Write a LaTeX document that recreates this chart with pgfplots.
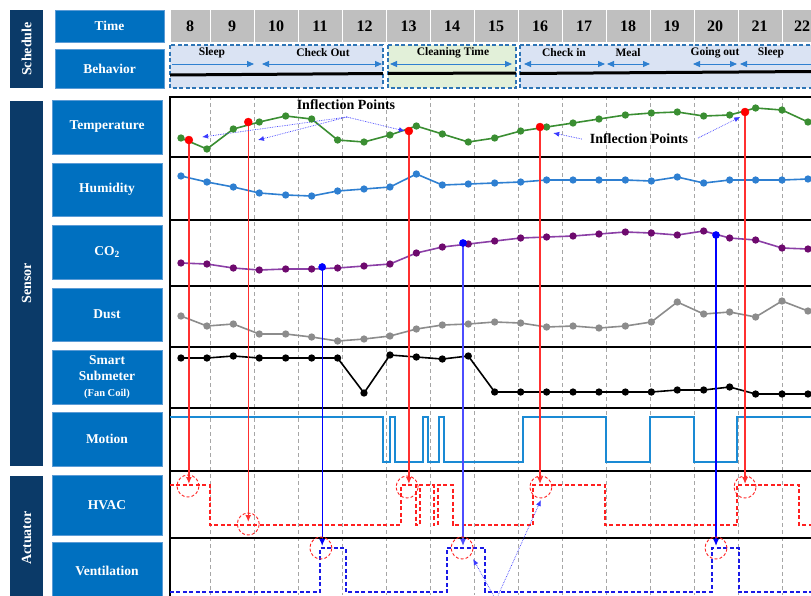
\documentclass[border=0pt]{standalone}
\usepackage{fontspec}
\setmainfont{Liberation Serif}
\usepackage{pgfplots}
\pgfplotsset{compat=1.18}
\usepackage{pgfplotstable}
\usetikzlibrary{arrows.meta}

\definecolor{boxblue}{HTML}{0070C0}
\definecolor{navy}{HTML}{0B3A68}
\definecolor{boxedge}{HTML}{5B9BD5}
\definecolor{lightblue}{HTML}{DAE3F3}
\definecolor{lightgreen}{HTML}{E2F0D9}
\definecolor{dashblue}{HTML}{2E75B6}
\definecolor{arrowblue}{HTML}{2F80D0}
\definecolor{headgray}{HTML}{BFBFBF}
\definecolor{tempgreen}{HTML}{3A8E32}
\definecolor{humblue}{HTML}{2E7FD1}
\definecolor{co2line}{HTML}{8B3FA6}
\definecolor{co2mark}{HTML}{6E0A6E}
\definecolor{dustgray}{HTML}{8C8C8C}
\definecolor{motionblue}{HTML}{1A8AD4}
\definecolor{hvacred}{HTML}{FF2020}
\definecolor{ventblue}{HTML}{1A1AE6}
\definecolor{linkred}{HTML}{FF3030}
\definecolor{linkblue}{HTML}{4D4DFF}
\definecolor{notes}{HTML}{3A3AFF}

\newcommand{\lblfont}{\fontsize{13.5}{16}\selectfont\bfseries}
% label box: x1 y1 x2 y2 text
\newcommand{\lbox}[5]{%
  \filldraw[fill=boxblue, draw=boxedge, line width=0.6pt] (#1,#2) rectangle (#3,#4);
  \node[text=white, align=center, font=\lblfont] at ({(#1+#3)/2},{(#2+#4)/2}) {#5};}
\newcommand{\navybar}[5]{%
  \fill[navy] (#1,#2) rectangle (#3,#4);
  \node[rotate=90, text=white, font=\fontsize{14}{16}\selectfont\bfseries] at ({(#1+#3)/2},{(#2+#4)/2}) {#5};}

% time in hours, sensor readings as drawn (row position, px)
\pgfplotstableread{
h     T   H   C   D   M
7.84  138 176 263 316 358
8.43  149 182 264 326 358
9.03  129 187 268 324 356
9.62  122 193 270 334 358
10.22 116 195 269 334 358
10.81 119 196 269 337 358
11.40 140 191 268 341 358
12.00 142 189 266 339 393
12.59 135 187 264 336 355
13.19 126 174 253 329 357
13.78 134 185 247 325 359
14.37 142 184 244 324 356
14.97 138 183 241 322 392
15.56 131 182 238 323 392
16.15 127 180 237 327 392
16.75 123 180 236 326 392
17.34 119 180 234 328 392
17.94 115 180 232 326 392
18.53 113 181 233 322 392
19.12 112 177 235 302 390
19.72 116 183 231 314 390
20.31 115 180 238 312 387
20.90 108 180 240 317 394
21.50 110 180 248 301 394
22.09 122 179 249 311 394
}\sensors

\begin{document}
\begin{tikzpicture}
\path[use as bounding box] (0pt,0pt) rectangle (811pt,-595pt);
\clip (0pt,0pt) rectangle (811pt,-595pt);
\begin{scope}[x=1pt,y=-1pt]
  % left column
  \navybar{10}{10}{43}{88}{Schedule}
  \navybar{10}{101}{43}{466}{Sensor}
  \navybar{10}{476}{43}{600}{Actuator}
  \lbox{55}{10}{164}{42}{Time}
  \lbox{55}{49}{164}{88}{Behavior}
  \lbox{52}{100}{162}{154}{Temperature}
  \lbox{52}{163}{162}{216}{Humidity}
  \lbox{52}{225}{162}{279}{CO\textsubscript{2}}
  \lbox{52}{288}{162}{341}{Dust}
  \lbox{52}{350}{162}{404}{Smart\\Submeter\\{\fontsize{10.5}{12}\selectfont(Fan Coil)}}
  \lbox{52}{412}{162}{466}{Motion}
  \lbox{52}{475}{162}{535}{HVAC}
  \lbox{52}{542}{162}{600}{Ventilation}

  % time header
  \fill[headgray] (171,10) rectangle (811,42);
  \foreach \x in {210,254,...,782} \draw[white, line width=1pt] (\x,10) -- (\x,42);
  \foreach \h/\x in {8/190,9/232,10/276,11/320,12/364.5,13/408.5,14/452,15/496,16/540,17/584,18/628,19/671.5,20/715,21/759.5,22/802}
    \node[font=\fontsize{16}{18}\selectfont\bfseries] at (\x,26) {\h};

  % behaviour row
  \filldraw[fill=lightblue, draw=dashblue, line width=1.2pt, dash pattern=on 4pt off 2.5pt] (170,45) rectangle (383,88);
  \filldraw[fill=lightgreen, draw=dashblue, line width=1.2pt, dash pattern=on 4pt off 2.5pt] (388,45) rectangle (516,88);
  \filldraw[fill=lightblue, draw=dashblue, line width=1.2pt, dash pattern=on 4pt off 2.5pt] (520,45) rectangle (820,88);
  \draw[line width=3pt] (170,75) -- (383,73.5);
  \draw[line width=3pt] (388,73.5) -- (516,73);
  \draw[line width=3pt] (520,73.5) -- (811,71.5);
  \begin{scope}[arrowblue, line width=0.9pt, >={Triangle[length=7pt,width=6pt]}]
    \draw[->] (172,64) -- (254,64);
    \draw[<->] (262,64) -- (382,64);
    \draw[<->] (390,64) -- (512,64);
    \draw[<->] (524,64) -- (605,64);
    \draw[<->] (607,64) -- (650,64);
    \draw[<->] (693,64) -- (737,64);
    \draw[<-] (740,64) -- (815,64);
  \end{scope}
  \begin{scope}[font=\fontsize{11.5}{13}\selectfont\bfseries]
    \node at (212,53) {Sleep};
    \node at (323,53) {Check Out};
    \node at (453,53) {Cleaning Time};
    \node at (564,53) {Check in};
    \node at (628,53) {Meal};
    \node at (715,53) {Going out};
    \node at (771,53) {Sleep};
  \end{scope}
\end{scope}

\begin{axis}[
  at={(170pt,-595pt)}, anchor=south west,
  width=641pt, height=499pt, scale only axis,
  xmin=7.5909, xmax=22.159, ymin=96, ymax=595, y dir=reverse,
  clip=false,
  axis line style={draw=none},
  xtick={8.5,9.5,...,21.5}, xticklabels={}, ytick=\empty,
  major tick length=0pt,
  xmajorgrids,
  major grid style={color=gray!70, line width=0.7pt, dash pattern=on 4pt off 3pt},
]
% panel frame
\draw[line width=2.5pt] (axis cs:7.5909,97) -- (axis cs:22.3,97);
\draw[line width=2pt] (axis cs:7.5909,157) -- (axis cs:22.3,157);
\draw[line width=2pt] (axis cs:7.5909,220) -- (axis cs:22.3,220);
\draw[line width=2pt] (axis cs:7.5909,286) -- (axis cs:22.3,286);
\draw[line width=2pt] (axis cs:7.5909,347) -- (axis cs:22.3,347);
\draw[line width=2pt] (axis cs:7.5909,408) -- (axis cs:22.3,408);
\draw[line width=2pt] (axis cs:7.5909,471) -- (axis cs:22.3,471);
\draw[line width=2pt] (axis cs:7.5909,538) -- (axis cs:22.3,538);
\draw[line width=1.5pt] (axis cs:7.5909,96) -- (axis cs:7.5909,600);

% sensors
\addplot[tempgreen, line width=1.6pt, mark=*, mark size=2.8pt] table[x=h,y=T]{\sensors};
\addplot[humblue, line width=1.6pt, mark=*, mark size=2.8pt] table[x=h,y=H]{\sensors};
\addplot[co2line, line width=1.6pt, mark=*, mark size=2.8pt, mark options={fill=co2mark, draw=co2mark}] table[x=h,y=C]{\sensors};
\addplot[dustgray, line width=1.6pt, mark=*, mark size=2.8pt] table[x=h,y=D]{\sensors};
\addplot[black, line width=1.6pt, mark=*, mark size=2.8pt] table[x=h,y=M]{\sensors};

% motion / actuators (on-off states)
\addplot[motionblue, line width=1.8pt, const plot] coordinates {
  (7.59,417) (12.43,462) (12.59,417) (12.70,462) (13.34,417) (13.45,462)
  (13.70,417) (13.82,462) (15.61,417) (17.50,462) (18.50,417) (19.50,462)
  (20.48,417) (22.16,417)};
\addplot[hvacred, line width=1.6pt, const plot, dash pattern=on 4pt off 2.5pt] coordinates {
  (7.59,485) (8.50,525) (12.84,485) (13.18,525) (13.27,485) (13.59,525)
  (13.68,485) (14.02,525) (15.84,485) (17.48,525) (20.48,485) (21.89,525)
  (22.16,525)};
\addplot[ventblue, line width=1.6pt, const plot, dash pattern=on 4pt off 2.5pt] coordinates {
  (7.59,592) (11.00,548) (11.59,592) (13.89,548) (14.75,592) (19.91,548)
  (20.52,592) (22.16,592)};

% links from inflection points to actuators
\addplot[linkred, line width=1.3pt, -{Latex[length=7pt,width=6pt]}] coordinates {(8.02,140) (8.02,484)};
\addplot[linkred, line width=1.4pt, -{Latex[length=7pt,width=6pt]}] coordinates {(9.37,122) (9.37,522)};
\addplot[linkred, line width=1.3pt, -{Latex[length=7pt,width=6pt]}] coordinates {(13.02,131) (13.02,484)};
\addplot[linkred, line width=1.3pt, -{Latex[length=7pt,width=6pt]}] coordinates {(16.00,127) (16.00,484)};
\addplot[linkred, line width=1.3pt, -{Latex[length=7pt,width=6pt]}] coordinates {(20.66,112) (20.66,484)};
\addplot[blue, line width=1.3pt, -{Latex[length=7pt,width=6pt]}] coordinates {(11.05,267) (11.05,546)};
\addplot[linkblue, line width=1.3pt, -{Latex[length=7pt,width=6pt]}] coordinates {(14.25,243) (14.25,546)};
\addplot[blue, line width=1.3pt, -{Latex[length=7pt,width=6pt]}] coordinates {(20.00,235) (20.00,546)};

\addplot[only marks, mark=*, red, mark size=4pt] coordinates {(8.02,140) (9.37,122) (13.02,131) (16.00,127) (20.66,112)};
\addplot[only marks, mark=*, blue, mark size=3.6pt] coordinates {(11.05,267) (14.25,243) (20.00,235)};
\addplot[only marks, mark=o, hvacred, mark size=11pt, mark options={line width=0.9pt, dash pattern=on 3pt off 2pt}] coordinates {
  (8.00,486) (9.37,524) (12.98,487) (16.02,487) (20.66,487) (11.02,548) (14.23,548) (20.00,548)};

% annotations
\node[font=\fontsize{14}{16}\selectfont\bfseries] at (axis cs:11.59,105) {Inflection Points};
\node[font=\fontsize{14}{16}\selectfont\bfseries] at (axis cs:18.25,139) {Inflection Points};
\draw[notes, line width=0.7pt, densely dotted, -{Latex[length=6pt,width=5pt]}] (axis cs:11.61,117) -- (axis cs:8.32,137);
\draw[notes, line width=0.7pt, densely dotted, -{Latex[length=6pt,width=5pt]}] (axis cs:11.61,117) -- (axis cs:9.59,140);
\draw[notes, line width=0.7pt, densely dotted, -{Latex[length=6pt,width=5pt]}] (axis cs:11.61,117) -- (axis cs:12.93,131);
\draw[notes, line width=0.7pt, densely dotted, -{Latex[length=6pt,width=5pt]}] (axis cs:16.95,139) -- (axis cs:16.30,133);
\draw[notes, line width=0.7pt, densely dotted, -{Latex[length=6pt,width=5pt]}] (axis cs:19.59,138) -- (axis cs:20.55,117);
\draw[notes, line width=0.7pt, densely dotted, -{Latex[length=6pt,width=5pt]}] (axis cs:15.00,600) -- (axis cs:16.02,500);
\draw[notes, line width=0.7pt, densely dotted, -{Latex[length=6pt,width=5pt]}] (axis cs:15.00,600) -- (axis cs:14.48,559);
\end{axis}
\end{tikzpicture}
\end{document}
